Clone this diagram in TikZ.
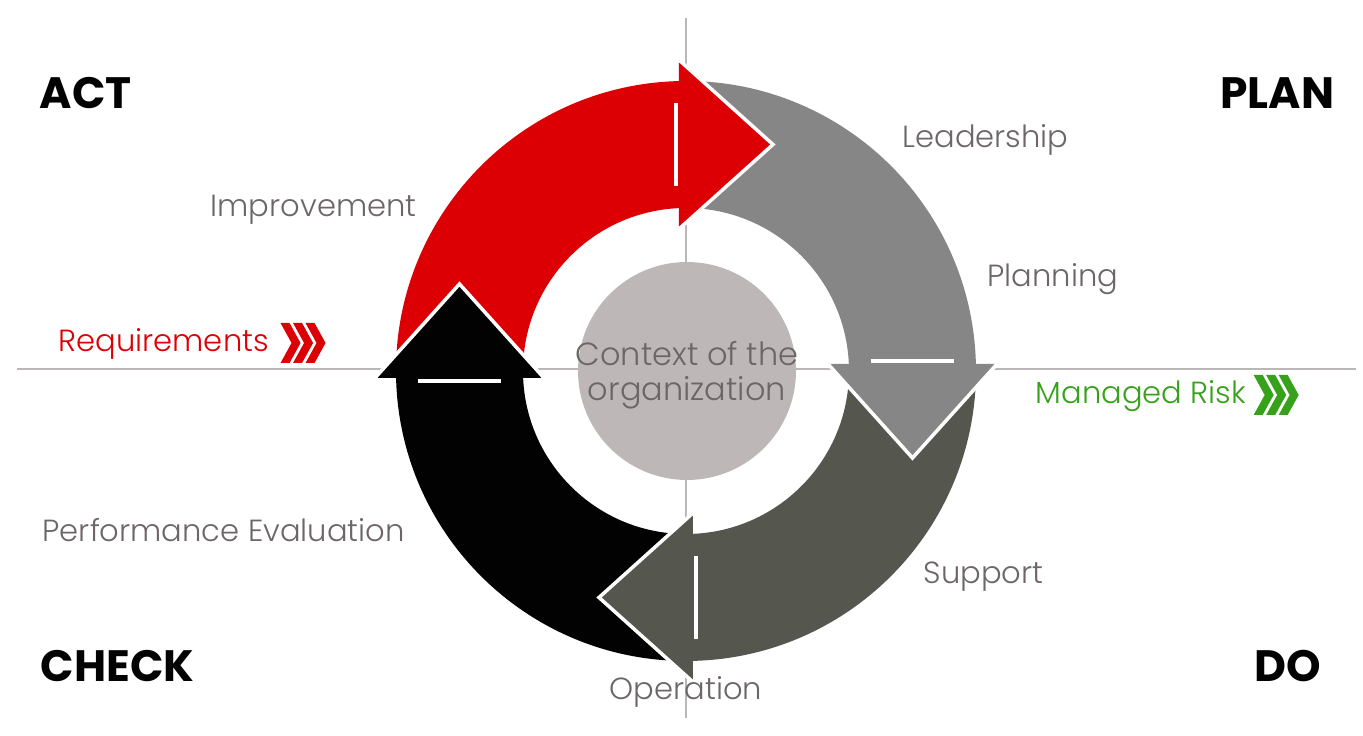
\documentclass[tikz,border=0pt]{standalone}
\usepackage{fontspec}
\setmainfont{Poppins}
\newfontfamily\lightfont{Poppins Light}
\usetikzlibrary{calc,positioning}
\definecolor{CycRed}{HTML}{DC0005}
\definecolor{CycGrey}{HTML}{868686}
\definecolor{CycDark}{HTML}{55574F}
\definecolor{CycInk}{HTML}{020202}
\definecolor{CycDisc}{HTML}{BEB7B8}
\definecolor{CycText}{HTML}{6C6668}
\definecolor{CycAxis}{HTML}{BBB6B7}
\definecolor{CycGreen}{HTML}{37A11B}

\begin{document}
\begin{tikzpicture}[x=0.1mm,y=0.1mm,
  lbl/.style={anchor=base west,inner sep=0pt,text=CycText,font=\lightfont\fontsize{8.7}{10}\selectfont},
  phase/.style={inner sep=0pt,text=CycInk,font=\fontsize{12.5}{14}\selectfont\bfseries},
  chev/.style={fill=#1}]
\useasboundingbox (-686,-365) rectangle (677,371);
\draw[CycAxis,line width=0.6pt] (-669,2) -- (670,2);
\draw[CycAxis,line width=0.6pt] (0,353) -- (0,-347);
% ring
\foreach \a/\b/\c in {181/91/CycRed,91/1/CycGrey,1/-89/CycDark,-89/-179/CycInk}
  \fill[\c] (\a:290) arc[start angle=\a,end angle=\b,radius=290] -- (\b:163) arc[start angle=\b,end angle=\a,radius=163] -- cycle;
\foreach \r/\c in {90/CycRed,0/CycGrey,-90/CycDark,-180/CycInk}{
  \begin{scope}[rotate=\r]
    \fill[\c] (142,7) -- (226.5,-87) -- (311,7) -- cycle;
    \draw[white,line width=1pt] (142,7) -- (226.5,-87) -- (311,7);
    \draw[white,line width=1.3pt] (185,10) -- (268,10);
  \end{scope}
}
\node[circle,fill=CycDisc,minimum size=21.8mm,inner sep=0pt] (disc) at (1,0) {};
\node[align=center,text=CycText,font=\lightfont\fontsize{9.1}{10}\selectfont] (ctx) at (1,-4) {Context of the\\organization};
% phases
\node[phase,anchor=base west] (act) at (-647,262) {ACT};
\node[phase,anchor=base east] (plan) at (649,262) {PLAN};
\node[phase,anchor=base west] (check) at (-646,-311) {CHECK};
\node[phase,anchor=base east] (do) at (636,-311) {DO};
% clauses
\node[lbl] (lead) at (216,223) {Leadership};
\node[lbl] (impr) at (-476,154) {Improvement};
\node[lbl] (plng) at (301,84) {Planning};
\node[lbl] (perf) at (-644,-171) {Performance Evaluation};
\node[lbl] (supp) at (237,-213) {Support};
\node[lbl,anchor=base] (oper) at (0,-329) {Operation};
\node[lbl,text=CycRed] (req) at (-628,19) {Requirements};
\node[lbl,text=CycGreen] (risk) at (349,-33) {Managed Risk};
\coordinate (reqc) at ($(req.base east)+(11,9)$);
\coordinate (riskc) at ($(risk.base east)+(7,9)$);
\foreach \p/\c in {reqc/CycRed,riskc/CycGreen}
  \foreach \d in {0,12.5,25}
    \fill[chev=\c] ($(\p)+(\d,20)$) -- ++(9,0) -- ++(11,-20) -- ++(-11,-20) -- ++(-9,0) -- ++(11,20) -- cycle;
\end{tikzpicture}
\end{document}
